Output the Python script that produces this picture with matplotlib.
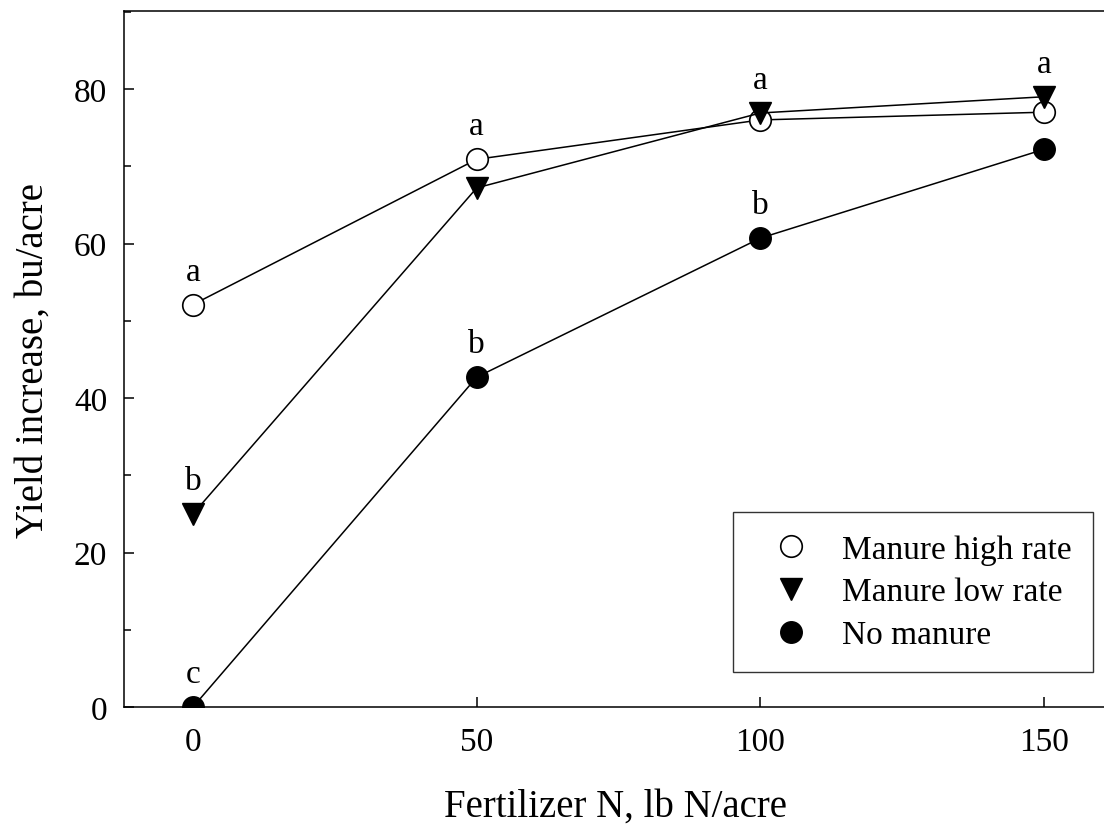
import matplotlib
matplotlib.use('Agg')
import matplotlib.pyplot as plt
from matplotlib.ticker import MultipleLocator

plt.rcParams['font.family'] = ['Liberation Serif', 'DejaVu Serif']

fert_n = [0, 50, 100, 150]
manure_high = [52.1, 70.9, 76.0, 77.0]
manure_low = [25.0, 67.2, 76.9, 79.0]
no_manure = [0.0, 42.7, 60.7, 72.2]

# significance letters: (series, index into fert_n, letter)
letters = [
    ('high', 0, 'a'), ('low', 0, 'b'), ('none', 0, 'c'),
    ('high', 1, 'a'), ('none', 1, 'b'),
    ('low', 2, 'a'), ('none', 2, 'b'),
    ('low', 3, 'a'),
]

series = {'high': manure_high, 'low': manure_low, 'none': no_manure}

fig = plt.figure(figsize=(11.04, 8.29), dpi=100)
ax = fig.add_axes([124 / 1104, 1 - 708 / 829, 982 / 1104, 696 / 829])

ax.plot(fert_n, manure_high, '-o', color='black', mfc='white', mec='black',
        ms=15.5, lw=1.1, mew=1.2, label='Manure high rate', zorder=3)
ax.plot(fert_n, manure_low, '-v', color='black', ms=15.5, lw=1.1,
        label='Manure low rate', zorder=3)
ax.plot(fert_n, no_manure, '-o', color='black', ms=15.5, lw=1.1,
        label='No manure', zorder=3)

for key, i, txt in letters:
    ax.annotate(txt, (fert_n[i], series[key][i]), xytext=(0, 18),
                textcoords='offset points', ha='center', va='baseline',
                fontsize=24)

ax.set_xlim(-12.16, 160.9)
ax.set_ylim(0, 90.1)
ax.set_xticks(fert_n)
ax.set_yticks([0, 20, 40, 60, 80])
ax.yaxis.set_minor_locator(MultipleLocator(10))
ax.tick_params(which='both', direction='in', labelsize=24, width=1.1)
ax.tick_params(which='major', length=7.5)
ax.tick_params(which='minor', length=5)
ax.tick_params(axis='x', which='major', pad=14)
ax.tick_params(axis='y', which='major', pad=12)
ax.spines['right'].set_visible(False)
for s in ('left', 'bottom', 'top'):
    ax.spines[s].set_linewidth(1.1)

ax.set_xlabel('Fertilizer N, lb N/acre', fontsize=28, labelpad=22)
ax.set_ylabel('Yield increase, bu/acre', fontsize=28, labelpad=16)

leg = ax.legend(loc='lower right', bbox_to_anchor=(0.9868, 0.0503),
                fontsize=24, frameon=True, fancybox=False, edgecolor='black',
                handlelength=2.2, handletextpad=0.42, borderpad=0.65,
                labelspacing=0.37, borderaxespad=0)
leg.get_frame().set_linewidth(1.0)
for h in leg.legend_handles:
    h.set_linestyle('none')

fig.savefig('out.png', dpi=100)
